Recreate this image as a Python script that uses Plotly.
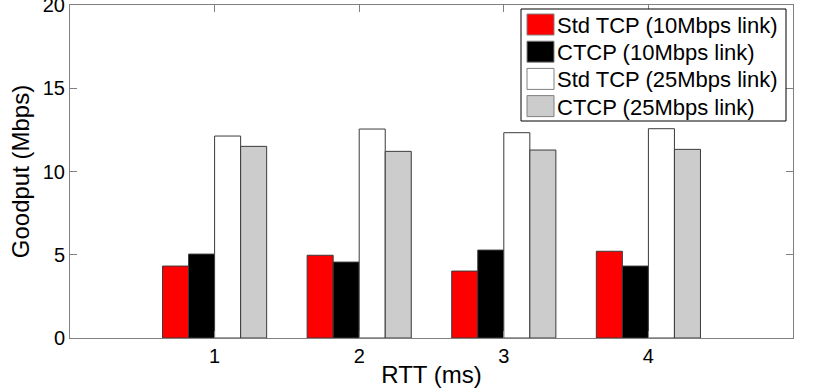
import plotly.graph_objs as go

rtt = [1, 2, 3, 4]
series_names = [
    "Std TCP (10Mbps link)",
    "CTCP (10Mbps link)",
    "Std TCP (25Mbps link)",
    "CTCP (25Mbps link)",
]
std_10 = [4.32, 4.97, 4.02, 5.21]
ctcp_10 = [5.04, 4.56, 5.28, 4.32]
std_25 = [12.13, 12.55, 12.33, 12.57]
ctcp_25 = [11.51, 11.21, 11.29, 11.33]
colors = ["#ff0000", "#000000", "#ffffff", "#cccccc"]

W, H = 830, 388
L, R, T, B = 70, 37, 5, 50
FONT = "Liberation Sans, Arial, Helvetica, sans-serif"


def px_to_paper(x, y):
    # convert window pixels to plot-area paper coordinates
    return (x - L) / (W - L - R), (H - B - y) / (H - T - B)


fig = go.Figure()
for name, vals, col in zip(series_names, [std_10, ctcp_10, std_25, ctcp_25], colors):
    fig.add_trace(go.Bar(x=rtt, y=vals, name=name, marker=dict(color=col, line=dict(color="#3a3a3a", width=1))))

# legend drawn by hand so the swatches match the original size
x0, y0 = px_to_paper(521, 9)
x1, y1 = px_to_paper(786, 121)
fig.add_shape(type="rect", xref="paper", yref="paper", x0=x0, x1=x1, y0=y1, y1=y0,
              line=dict(color="black", width=1), fillcolor="white", layer="above")
for i, (name, col) in enumerate(zip(series_names, colors)):
    cy = 24.5 + i * 27.2
    sx0, sy0 = px_to_paper(527, cy - 10.5)
    sx1, sy1 = px_to_paper(554, cy + 10.5)
    fig.add_shape(type="rect", xref="paper", yref="paper", x0=sx0, x1=sx1, y0=sy1, y1=sy0,
                  line=dict(color="#808080", width=1), fillcolor=col, layer="above")
    tx, ty = px_to_paper(555, cy + 1)
    fig.add_annotation(x=tx, y=ty, xref="paper", yref="paper", text=name, showarrow=False,
                       xanchor="left", yanchor="middle", font=dict(size=22, color="black"))

fig.update_layout(
    width=W, height=H,
    margin=dict(l=L, r=R, t=T, b=B),
    barmode="group", bargap=0.28, bargroupgap=0,
    plot_bgcolor="white", paper_bgcolor="white",
    font=dict(family=FONT, size=20, color="black"),
    showlegend=False,
)
fig.update_xaxes(range=[0, 5], tickvals=rtt, ticks="inside", ticklen=7, tickcolor="#808080",
                 showline=True, linecolor="#808080", linewidth=1, mirror="ticks", showgrid=False,
                 zeroline=False, automargin=False,
                 title=dict(text="RTT (ms)", standoff=0))
fig.update_yaxes(range=[0, 20], dtick=5, ticks="inside", ticklen=7, tickcolor="#808080",
                 showline=True, linecolor="#808080", linewidth=1, mirror="ticks", showgrid=False,
                 zeroline=False, automargin=False, ticklabeloverflow="allow",
                 title=dict(text="Goodput (Mbps)", standoff=6))

# page body has a default 8px margin, drop it so the figure fills the window
fig.write_html("out.html", config={"displayModeBar": False},
               post_script="document.body.style.margin='0';")
